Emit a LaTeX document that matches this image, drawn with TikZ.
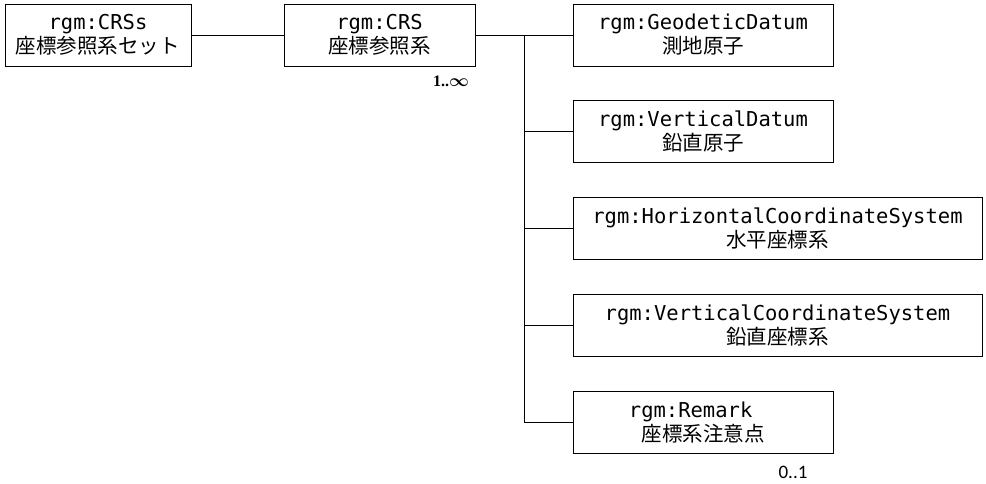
\documentclass[tikz,border=0pt]{standalone}
\usepackage{fontspec}
\usepackage{amsmath}
\setmainfont{DejaVu Sans Mono}
\newfontfamily\jpfont{Noto Sans CJK JP}
\newfontfamily\multfont{Liberation Serif}
\newfontfamily\optfont{Carlito}
\usetikzlibrary{positioning}

\begin{document}
\begin{tikzpicture}[x=1pt, y=-1pt,
     node distance = 34pt and 34pt,
        box/.style = {rectangle, draw, line width=0.9pt, inner sep=0pt,
                      minimum height=62pt, align=center,
                      font=\fontsize{20.5}{24}\selectfont},
       sbox/.style = {box, minimum width=260pt},
       wbox/.style = {box, minimum width=409pt},
       link/.style = {line width=0.9pt}
                        ]
\useasboundingbox (0,0) rectangle (986,483);
\node (crss)[box, minimum width=186pt] at (98,35) {rgm:CRSs\\ \jpfont 座標参照系セット};
\node (crs) [box, minimum width=191pt] at (379.5,35) {rgm:CRS\\ \jpfont 座標参照系};
\node (gd)  [sbox] at (703,35) {rgm:GeodeticDatum\\ \jpfont 測地原子};
\node (vd)  [sbox, below =of gd] {rgm:VerticalDatum\\ \jpfont 鉛直原子};
\node (hcs) [wbox, below =of vd.south west, anchor=north west] {rgm:HorizontalCoordinateSystem\\ \jpfont 水平座標系};
\node (vcs) [wbox, below =of hcs] {rgm:VerticalCoordinateSystem\\ \jpfont 鉛直座標系};
\node (rem) [sbox, below =of vcs.south west, anchor=north west] {rgm:Remark\hphantom{xx}\\ \jpfont 座標系注意点};
\node (many)[font=\multfont\bfseries\fontsize{16}{18}\selectfont] at (451,81) {1..$\boldsymbol{\infty}$};
\node (opt) [font=\optfont\fontsize{19}{22}\selectfont] at (793,472) {0..1};
\coordinate (trunk) at (524,35);
\draw[link] (crss) to (crs);
\draw[link] (crs.east) -- (trunk) |- (rem.west);
\foreach \n in {gd,vd,hcs,vcs}
  \draw[link] (trunk |- \n.west) -- (\n.west);
\end{tikzpicture}
\end{document}
